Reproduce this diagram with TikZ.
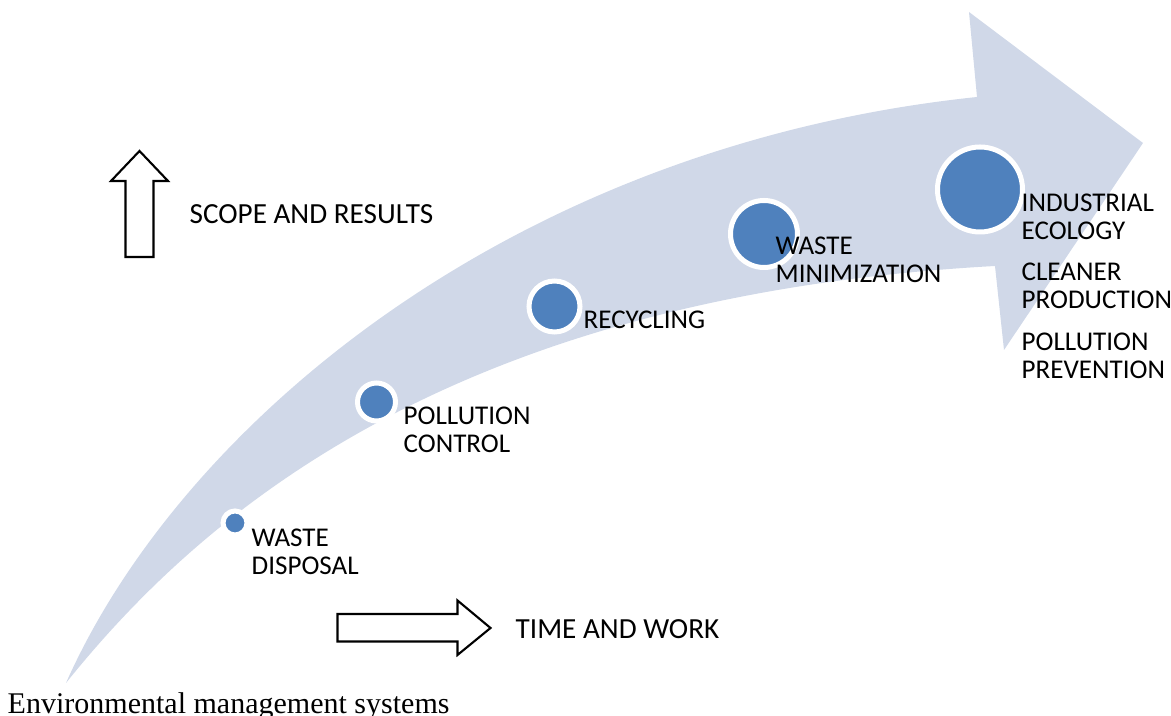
\documentclass[tikz,border=0pt]{standalone}
\usepackage{fontspec}
\setmainfont{Liberation Serif}
\newfontfamily\calibrifont{Carlito}
\usetikzlibrary{positioning}
\definecolor{bandblue}{RGB}{208,216,232}
\definecolor{dotblue}{RGB}{79,129,189}
\newcommand{\fillcolorblue}{dotblue}
\newcommand{\boundarycolor}{white}

\begin{document}
\begin{tikzpicture}[dot/.style={circle,draw=\boundarycolor,fill=\fillcolorblue,line width=0.05cm,minimum size=#1,inner sep=0},
	lbl/.style={anchor=base west,inner sep=0,align=left,font=\calibrifont\fontsize{7.7pt}{8pt}\selectfont},
	axis/.style={anchor=base west,inner sep=0,font=\calibrifont\fontsize{8.3pt}{8.3pt}\selectfont},
	hollow/.style={draw=black,line width=0.6pt,fill=white}]
	\useasboundingbox (0,0) rectangle (11.71,7.16);
	%% curved band with its head
	\fill[bandblue] (0.66,0.33) .. controls (1.8,2.9) and (5.1,5.7) .. (9.77,6.19)
		-- (9.69,7.04) -- (11.43,5.73) -- (10.04,3.66) -- (9.95,4.50)
		.. controls (4.5,4.2) and (2.0,2.0) .. (0.66,0.33) -- cycle;
	%%
	\node[dot=0.24cm] (d1) at (2.35,1.93) {};
	\node[dot=0.38cm] (d2) at (3.765,3.14) {};
	\node[dot=0.51cm] (d3) at (5.545,4.095) {};
	\node[dot=0.67cm] (d4) at (7.64,4.82) {};
	\node[dot=0.85cm] (d5) at (9.80,5.265) {};
	%%
	\node[lbl] (wd) at (2.51,1.41) {WASTE\\DISPOSAL};
	\node[lbl] (pc) at (4.03,2.63) {POLLUTION\\CONTROL};
	\node[lbl] (rc) at (5.83,3.87) {RECYCLING};
	\node[lbl] (wm) at (7.75,4.33) {WASTE\\MINIMIZATION};
	\node[lbl] (ie) at (10.21,4.76) {INDUSTRIAL\\ECOLOGY};
	\node[lbl] (cp) at (10.21,4.07) {CLEANER\\PRODUCTION};
	\node[lbl] (pp) at (10.21,3.37) {POLLUTION\\PREVENTION};
	%% outline arrows
	\draw[hollow] (1.255,4.59) -- (1.255,5.35) -- (1.11,5.35) -- (1.395,5.65) -- (1.68,5.35) -- (1.535,5.35) -- (1.535,4.59) -- cycle;
	\node[axis] (sr) at (1.89,4.92) {SCOPE AND RESULTS};
	\draw[hollow] (3.375,0.745) -- (3.375,1.02) -- (4.575,1.02) -- (4.575,1.155) -- (4.905,0.88) -- (4.575,0.61) -- (4.575,0.745) -- cycle;
	\node[axis] (tw) at (5.15,0.77) {TIME AND WORK};
	%%
	\node[anchor=base west,inner sep=0,font=\fontsize{8.54pt}{9pt}\selectfont] (ems) at (0.07,0.02) {Environmental management systems};
\end{tikzpicture}
\end{document}
